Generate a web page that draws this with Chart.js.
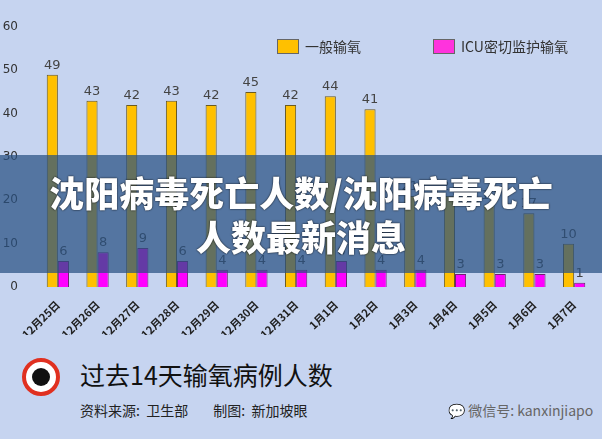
<!DOCTYPE html>
<html><head><meta charset="utf-8">
<script src="https://cdn.jsdelivr.net/npm/chart.js@4"></script>
<style>
body{margin:0;width:602px;height:439px;overflow:hidden;background:#c6d4f0;font-family:"Noto Sans CJK SC","Noto Sans",sans-serif;position:relative}
#wrap{position:absolute;left:0;top:0;width:602px;height:335px}
.leg{position:absolute;top:36px;font-size:14px;color:#333;display:flex;align-items:center}
.leg i{display:inline-block;width:20px;height:13px;margin-right:6px;border:1px solid #666}
#banner{position:absolute;left:0;top:155px;width:602px;height:118px;background:rgba(40,80,130,0.72);color:#fff;font-weight:900;font-size:35px;text-align:center;line-height:44px;padding-top:15px;box-sizing:border-box;text-shadow:0 0 2px #000}
</style></head><body>
<div id="wrap"><canvas id="c" width="602" height="335" style="width:602px;height:335px"></canvas></div>
<div class="leg" style="left:277px"><i style="background:#ffc000"></i>一般输氧</div>
<div class="leg" style="left:433px"><i style="background:#ff33dd"></i>ICU密切监护输氧</div>
<div id="banner">沈阳病毒死亡人数/沈阳病毒死亡<br>人数最新消息</div>
<div style="position:absolute;left:20px;top:352px;width:40px;height:48px">
<div style="position:absolute;left:2px;top:6px;width:30px;height:30px;border:4px solid #e03020;border-radius:50%;background:#fff"></div>
<div style="position:absolute;left:12px;top:16px;width:18px;height:18px;border-radius:50%;background:#111"></div>
</div>
<div style="position:absolute;left:80px;top:356px;font-size:25px;color:#111">过去14天输氧病例人数</div>
<div style="position:absolute;left:80px;top:400px;font-size:14px;color:#222">资料来源:&nbsp; 卫生部 &nbsp;&nbsp;&nbsp;&nbsp;&nbsp;&nbsp; 制图:&nbsp; 新加坡眼</div>
<div style="position:absolute;left:448px;top:400px;font-size:14px;color:#666">💬 微信号: kanxinjiapo</div>
<script>
const categories=["12月25日","12月26日","12月27日","12月28日","12月29日","12月30日","12月31日","1月1日","1月2日","1月3日","1月4日","1月5日","1月6日","1月7日"];
const general=[49,43,42,43,42,45,42,44,41,21,21,19,17,10];
const icu=[6,8,9,6,4,4,4,6,4,4,3,3,3,1];
const yTicks=[0,10,20,30,40,50,60];
const labelPlugin={id:'lbl',afterDatasetsDraw(ch){const c=ch.ctx;c.save();c.font='13px "DejaVu Sans", sans-serif';c.fillStyle='#444';c.textAlign='center';c.textBaseline='bottom';
ch.data.datasets.forEach((d,i)=>{ch.getDatasetMeta(i).data.forEach((b,j)=>{c.fillText(d.data[j],b.x,b.y-3);});});c.restore();}};
new Chart(document.getElementById('c'),{type:'bar',
data:{labels:categories,datasets:[
{label:'一般输氧',data:general,backgroundColor:'#ffc000',borderColor:'#6a5a20',borderWidth:1,categoryPercentage:0.56,barPercentage:1},
{label:'ICU密切监护输氧',data:icu,backgroundColor:'#ff00ff',borderColor:'#702070',borderWidth:1,categoryPercentage:0.56,barPercentage:1}]},
options:{responsive:false,animation:false,devicePixelRatio:1,layout:{padding:{top:27,right:8,left:0,bottom:0}},
plugins:{legend:{display:false},tooltip:{enabled:false}},
scales:{y:{min:0,max:60,afterBuildTicks:s=>{s.ticks=yTicks.map(v=>({value:v}));},afterFit:s=>{s.width=38},grid:{display:false},border:{display:false},ticks:{color:'#333',font:{size:12,family:'DejaVu Sans'},padding:12}},
x:{afterFit:s=>{s.height=48},grid:{display:false},border:{display:false},ticks:{color:'#222',font:{size:11,family:'Noto Sans CJK SC',weight:'bold'},maxRotation:45,minRotation:45,autoSkip:false}}}},
plugins:[labelPlugin]});
</script>
</body></html>
